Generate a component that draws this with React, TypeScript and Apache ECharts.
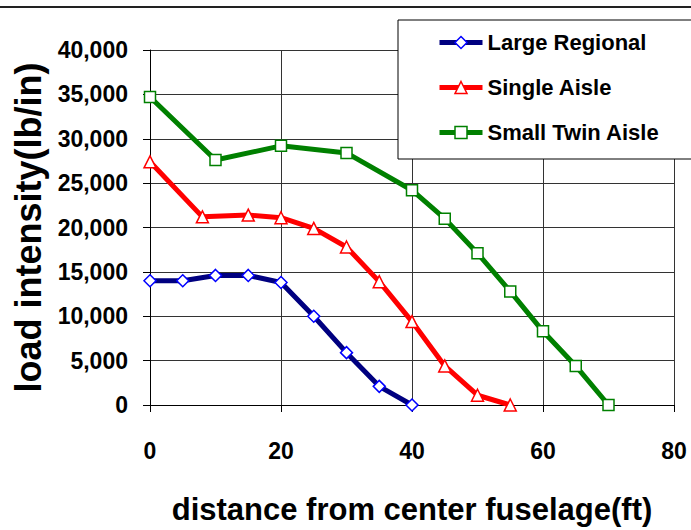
import React, { useEffect, useRef } from "react";
import * as echarts from "echarts";

const seriesNames = ["Large Regional", "Single Aisle", "Small Twin Aisle"];

const largeRegionalX = [0, 5, 10, 15, 20, 25, 30, 35, 40];
const largeRegionalY = [14000, 14000, 14600, 14600, 13800, 10000, 5900, 2100, 0];

const singleAisleX = [0, 8, 15, 20, 25, 30, 35, 40, 45, 50, 55];
const singleAisleY = [27400, 21200, 21400, 21100, 19900, 17800, 13900, 9400, 4400, 1100, 0];

const smallTwinX = [0, 10, 20, 30, 40, 45, 50, 55, 60, 65, 70];
const smallTwinY = [34700, 27600, 29200, 28400, 24200, 21000, 17100, 12800, 8300, 4400, 0];

const xAxisTitle = "distance from center fuselage(ft)";
const yAxisTitle = "load intensity(lb/in)";

const FONT = "'Liberation Sans', Arial, sans-serif";

function pairs(xs: number[], ys: number[]) {
  return xs.map((x, i) => [x, ys[i]]);
}

export default function App() {
  const ref = useRef<HTMLDivElement>(null);
  useEffect(() => {
    const chart = echarts.init(ref.current!, null, { renderer: "svg" });
    const mk = (
      name: string,
      data: number[][],
      lineColor: string,
      markColor: string,
      symbol: string,
      size: number
    ) => ({
      name,
      type: "line",
      data,
      symbol,
      symbolSize: size,
      showAllSymbol: true,
      lineStyle: { color: lineColor, width: 5 },
      itemStyle: { color: "#fff", borderColor: markColor, borderWidth: 1.5 },
      color: lineColor,
      z: 3,
    });
    chart.setOption({
      animation: false,
      backgroundColor: "#fff",
      textStyle: { fontFamily: FONT },
      grid: { left: 150, right: 17, top: 50, bottom: 123, containLabel: false },
      graphic: [
        {
          type: "line",
          shape: { x1: 0, y1: 7, x2: 691, y2: 7 },
          style: { stroke: "#222", lineWidth: 2 },
        },
      ],
      legend: {
        orient: "vertical",
        left: 398,
        top: 20,
        padding: [10, 34, 14, 39],
        itemWidth: 43,
        itemHeight: 15,
        itemGap: 20,
        backgroundColor: "#fff",
        borderColor: "#000",
        borderWidth: 1,
        borderRadius: 0,
        lineStyle: { width: 5 },
        itemStyle: { borderWidth: 1.5 },
        textStyle: {
          fontSize: 22,
          fontWeight: "bold",
          fontFamily: FONT,
          color: "#000",
          lineHeight: 25,
        },
        data: seriesNames,
      },
      xAxis: {
        type: "value",
        min: 0,
        max: 80,
        interval: 20,
        name: xAxisTitle,
        nameLocation: "middle",
        nameGap: 89,
        nameTextStyle: { fontSize: 31, fontWeight: "bold", color: "#000", fontFamily: FONT },
        axisLine: { show: true, lineStyle: { color: "#000", width: 1 } },
        axisTick: { show: true, inside: false, length: 7, lineStyle: { color: "#000" } },
        axisLabel: {
          fontSize: 23,
          fontWeight: "bold",
          color: "#000",
          margin: 34,
          fontFamily: FONT,
        },
        splitLine: { show: true, lineStyle: { color: "#333", width: 1 } },
      },
      yAxis: {
        type: "value",
        min: 0,
        max: 40000,
        interval: 5000,
        name: yAxisTitle,
        nameLocation: "middle",
        nameGap: 100,
        nameRotate: 90,
        nameTextStyle: { fontSize: 36, fontWeight: "bold", color: "#000", fontFamily: FONT },
        axisLine: { show: true, lineStyle: { color: "#000", width: 1 } },
        axisTick: { show: true, inside: false, length: 7, lineStyle: { color: "#000" } },
        axisLabel: {
          fontSize: 23,
          fontWeight: "bold",
          color: "#000",
          margin: 22,
          fontFamily: FONT,
          formatter: (v: number) => v.toLocaleString("en-US"),
        },
        splitLine: { show: true, lineStyle: { color: "#333", width: 1 } },
      },
      series: [
        mk(seriesNames[0], pairs(largeRegionalX, largeRegionalY), "#000080", "#0000ff", "diamond", 12),
        mk(seriesNames[1], pairs(singleAisleX, singleAisleY), "#ff0000", "#ff0000", "triangle", 12),
        mk(seriesNames[2], pairs(smallTwinX, smallTwinY), "#008000", "#008000", "rect", 11),
      ],
    });
    return () => chart.dispose();
  }, []);
  return (
    <div
      ref={ref}
      style={{ position: "fixed", left: 0, top: 0, width: 691, height: 530, background: "#fff" }}
    />
  );
}
